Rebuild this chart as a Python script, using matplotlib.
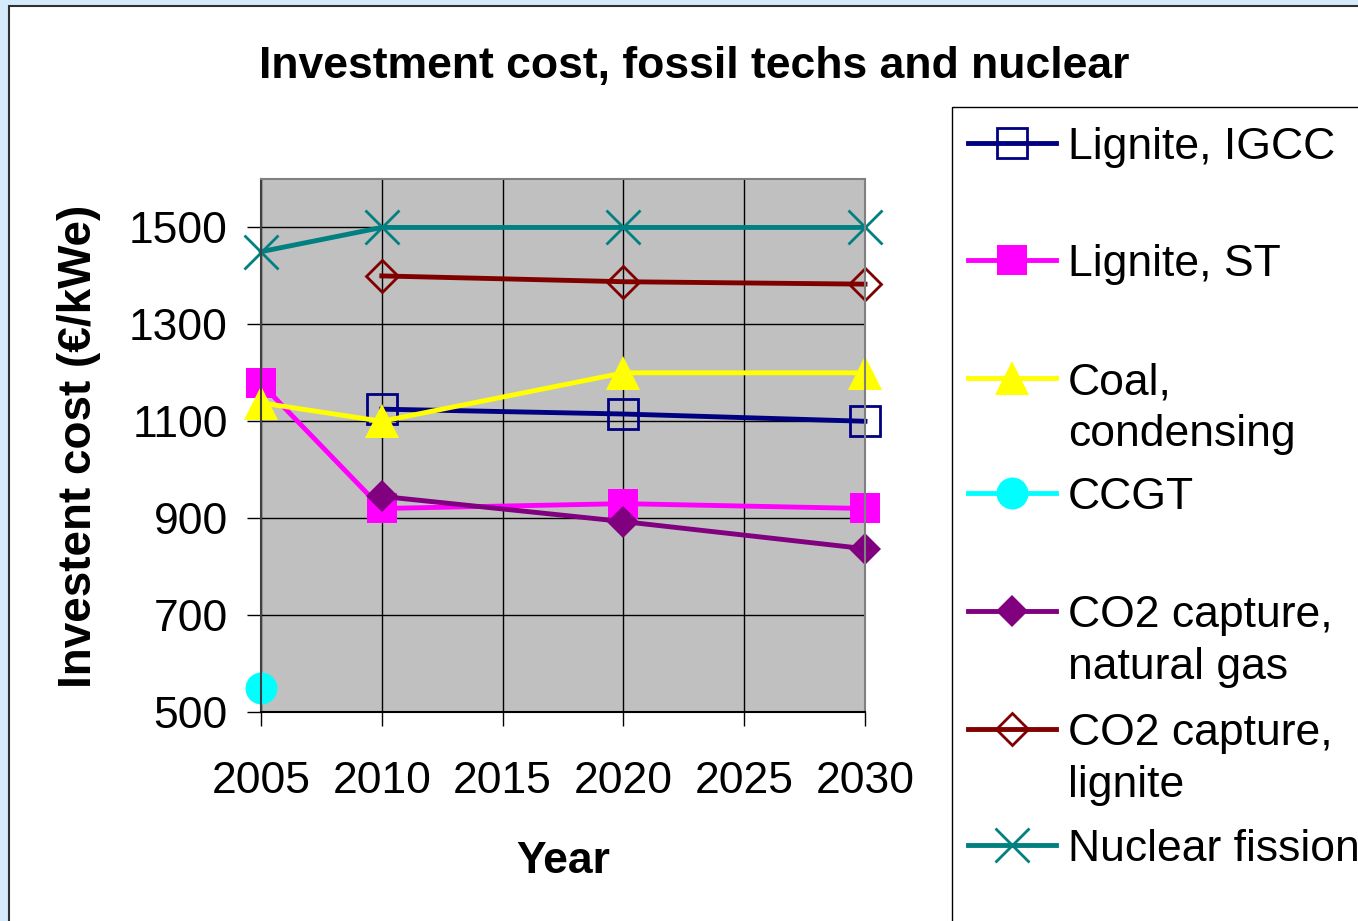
import numpy as np
import matplotlib
matplotlib.use("Agg")
import matplotlib.pyplot as plt
from matplotlib.lines import Line2D
from matplotlib.patches import Rectangle

plt.rcParams["font.family"] = ["Liberation Sans", "DejaVu Sans"]

nan = np.nan

years = [2005, 2010, 2020, 2030]
lignite_igcc = [nan, 1125, 1115, 1100]
lignite_st = [1178, 920, 930, 920]
coal_condensing = [1138, 1100, 1200, 1200]
ccgt = [550, nan, nan, nan]
co2_natural_gas = [nan, 945, 893, 837]
co2_lignite = [nan, 1400, 1388, 1383]
nuclear = [1450, 1500, 1500, 1500]

labels = ["Lignite, IGCC", "Lignite, ST", "Coal,\ncondensing", "CCGT",
          "CO2 capture,\nnatural gas", "CO2 capture,\nlignite", "Nuclear fission"]
series = [lignite_igcc, lignite_st, coal_condensing, ccgt,
          co2_natural_gas, co2_lignite, nuclear]

# styles per series
styles = [
    dict(color="#000080", marker="s", markersize=22, markerfacecolor="none", markeredgewidth=2),
    dict(color="#ff00ff", marker="s", markersize=22, markerfacecolor="#ff00ff", markeredgewidth=0),
    dict(color="#ffff00", marker="^", markersize=24, markerfacecolor="#ffff00", markeredgewidth=0),
    dict(color="#00ffff", marker="o", markersize=23, markerfacecolor="#00ffff", markeredgewidth=0),
    dict(color="#800080", marker="D", markersize=16, markerfacecolor="#800080", markeredgewidth=0),
    dict(color="#800000", marker="D", markersize=16, markerfacecolor="none", markeredgewidth=2),
    dict(color="#008080", marker="x", markersize=24, markeredgewidth=2),
]

W, H = 1358, 921


def fx(px):
    return px / W


def fy(py):
    return 1 - py / H


fig = plt.figure(figsize=(W / 100, H / 100), dpi=100, facecolor="#d5ebfc")

# white chart area and legend box
fig.patches.append(Rectangle((fx(9), -0.1), 1.2, fy(6) + 0.1, transform=fig.transFigure,
                             facecolor="white", edgecolor="#303030", linewidth=1.5, zorder=-2))
fig.patches.append(Rectangle((fx(952), -0.1), 1.0, fy(107) + 0.1, transform=fig.transFigure,
                             facecolor="white", edgecolor="black", linewidth=1.0, zorder=-1))

ax = fig.add_axes([fx(261), fy(712), fx(865) - fx(261), fy(179) - fy(712)])
ax.set_zorder(1)
ax.set_facecolor("#c0c0c0")

for vals, st in zip(series, styles):
    ax.plot(years, vals, linewidth=3.5, clip_on=False, **st)

ax.set_xlim(2005, 2030)
ax.set_ylim(500, 1600)
ax.set_xticks(range(2005, 2031, 5))
ax.set_yticks(range(500, 1501, 200))
ax.grid(True, color="black", linewidth=1)
ax.set_axisbelow(True)
ax.tick_params(axis="both", labelsize=32, length=10, width=1, direction="out", color="black")
ax.tick_params(axis="x", pad=25)
ax.tick_params(axis="y", pad=14)
ax.spines["left"].set_color("#404040")
ax.spines["bottom"].set_color("black")
ax.spines["top"].set_color("#808080")
ax.spines["right"].set_color("#808080")
for s in ax.spines.values():
    s.set_linewidth(1.5)

fig.text(fx(694), fy(78), "Investment cost, fossil techs and nuclear", fontsize=32,
         fontweight="bold", ha="center", va="baseline")
fig.text(fx(79), fy(446), "Investent cost (\u20ac/kWe)", fontsize=33, fontweight="bold",
         rotation=90, ha="center", va="center")
fig.text(fx(563), fy(873), "Year", fontsize=32, fontweight="bold", ha="center", va="baseline")

# legend drawn by hand to get Excel-like slots
slot_y = [143, 260, 378, 493, 611, 729, 845]
for lab, st, y in zip(labels, styles, slot_y):
    fig.add_artist(Line2D([fx(968), fx(1056)], [fy(y), fy(y)], transform=fig.transFigure,
                          color=st["color"], linewidth=3.5))
    fig.add_artist(Line2D([fx(1012)], [fy(y)], transform=fig.transFigure, linestyle="none", **st))
    for i, line in enumerate(lab.split("\n")):
        fig.text(fx(1068), fy(y + 16 + 52 * i), line, fontsize=32, ha="left", va="baseline")

fig.savefig("out.png", dpi=100, facecolor=fig.get_facecolor())
